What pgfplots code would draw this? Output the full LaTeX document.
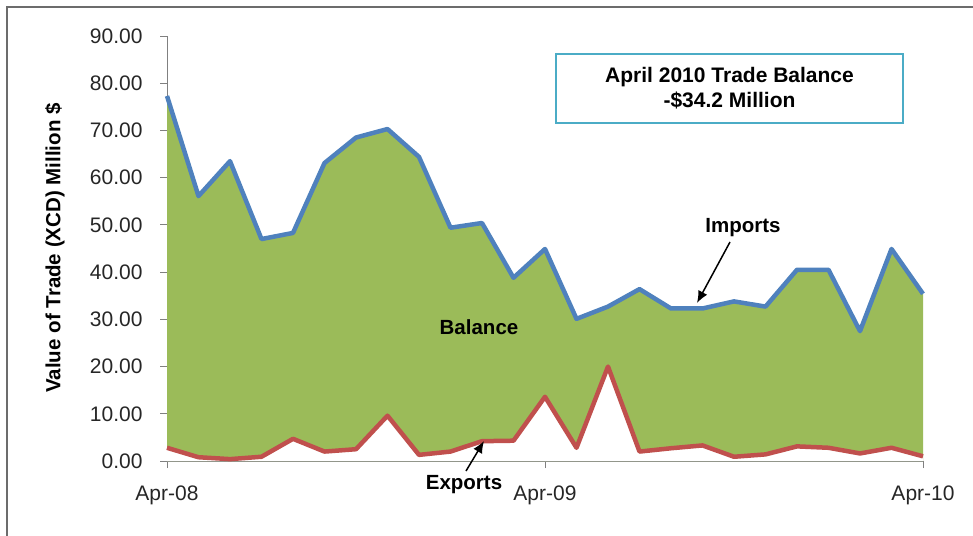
\documentclass[border=0pt]{standalone}
\usepackage{fontspec}
\setmainfont{Liberation Sans}
\usepackage{pgfplots}
\pgfplotsset{compat=1.18}
\usetikzlibrary{arrows.meta}
\definecolor{impblue}{HTML}{4F81BD}
\definecolor{expred}{HTML}{C0504D}
\definecolor{balgreen}{HTML}{9BBB59}
\definecolor{boxcyan}{HTML}{4BACC6}
\pgfplotstableread{
idx imports exports
0  77.3 2.8
1  56.1 0.8
2  63.5 0.4
3  47.0 0.9
4  48.3 4.7
5  63.1 2.0
6  68.5 2.5
7  70.3 9.6
8  64.4 1.3
9  49.4 2.0
10 50.4 4.2
11 38.8 4.3
12 44.9 13.6
13 30.1 2.8
14 32.7 20.0
15 36.4 2.0
16 32.3 2.7
17 32.3 3.3
18 33.8 0.9
19 32.7 1.4
20 40.5 3.1
21 40.5 2.8
22 27.5 1.6
23 44.9 2.8
24 35.4 1.0
}\trade
\begin{document}
\begin{tikzpicture}
\useasboundingbox (0,0) rectangle (973pt,-535pt);
\draw[draw=gray!85!black, line width=2pt] (7pt,-540pt) -- (7pt,-7pt) -- (980pt,-7pt);
\begin{axis}[
  at={(167pt,-461pt)}, anchor=south west,
  scale only axis, width=756pt, height=425pt,
  xmin=0, xmax=24, ymin=0, ymax=90,
  clip=false,
  axis lines=left,
  axis line style={-, draw=gray, line width=1pt},
  tick style={draw=gray, line width=1pt},
  tick align=outside,
  major tick length=7pt,
  xtick={0,12,24},
  xticklabels={Apr-08,Apr-09,Apr-10},
  ytick={0,10,...,90},
  /pgf/number format/assume math mode=true,
  yticklabel style={/pgf/number format/fixed, /pgf/number format/fixed zerofill, /pgf/number format/precision=2, font=\fontsize{21}{25}\selectfont, text=black!85, xshift=-14pt},
  xticklabel style={font=\fontsize{21}{25}\selectfont, text=black!85, yshift=-14pt},
]
\addplot[draw=none, fill=balgreen] table[x=idx, y=imports] {\trade} \closedcycle;
\addplot[draw=none, fill=white] table[x=idx, y=exports] {\trade} \closedcycle;
\addplot[impblue, line width=4.5pt, line join=round, mark=none] table[x=idx, y=imports] {\trade};
\addplot[expred, line width=4.5pt, line join=round, mark=none] table[x=idx, y=exports] {\trade};
\end{axis}
\node[rotate=90, font=\bfseries\fontsize{20.5}{24}\selectfont] at (55pt,-248pt) {Value of Trade (XCD) Million \$};
\node[draw=boxcyan, line width=2pt, minimum width=347pt, minimum height=69pt, align=center, font=\bfseries\fontsize{21}{25}\selectfont] at (729.5pt,-88.5pt) {April 2010 Trade Balance\\-\$34.2 Million};
\node[font=\bfseries\fontsize{20.5}{24}\selectfont] at (743pt,-228pt) {Imports};
\node[font=\bfseries\fontsize{20.5}{24}\selectfont] at (479pt,-327pt) {Balance};
\node[font=\bfseries\fontsize{20.5}{24}\selectfont] at (464pt,-485pt) {Exports};
\draw[-{Latex[length=12pt,width=10pt]}, line width=1.5pt] (730pt,-242pt) -- (697pt,-303pt);
\draw[-{Latex[length=12pt,width=10pt]}, line width=1.5pt] (466pt,-471pt) -- (484pt,-441pt);
\end{tikzpicture}
\end{document}
